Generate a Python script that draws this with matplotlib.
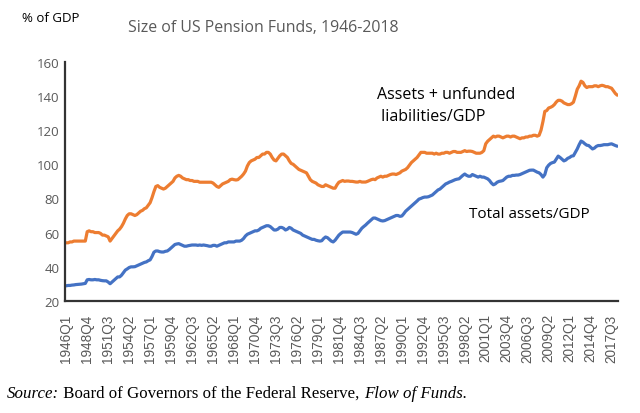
import matplotlib
matplotlib.use("Agg")
import matplotlib.pyplot as plt
import numpy as np

# quarterly values, 1946Q1 .. 2018Q2 (4 per row = one year)
liab_gdp = [
    54, 54, 54.5, 54.5,        # 1946
    55, 55, 55, 55,            # 1947
    55, 55, 55, 60.5,          # 1948
    61, 60.5, 60.5, 60,        # 1949
    60, 60, 59.5, 58.5,        # 1950
    58.5, 58, 57.5, 55,        # 1951
    56.5, 58, 59.5, 61,        # 1952
    62, 63.5, 65.5, 68,        # 1953
    70, 71, 71, 70.5,          # 1954
    70, 70.5, 71.5, 72.5,      # 1955
    73, 74, 74.5, 76,          # 1956
    77.5, 80.5, 84, 87,        # 1957
    87.5, 86.5, 86, 85.5,      # 1958
    86, 87, 88, 89,            # 1959
    90, 92, 93, 93.5,          # 1960
    93, 92, 91.5, 91,          # 1961
    91, 90.5, 90.5, 90,        # 1962
    90, 90, 89.5, 89.5,        # 1963
    89.5, 89.5, 89.5, 89.5,    # 1964
    89.5, 89, 88, 87,          # 1965
    86.5, 87.5, 88.5, 89,      # 1966
    89.5, 90, 91, 91.3,        # 1967
    91, 90.8, 91, 92,          # 1968
    93, 94.3, 96, 99,          # 1969
    101, 102, 102.5, 103,      # 1970
    104, 104, 105, 106,        # 1971
    106, 107, 107, 106,        # 1972
    104, 102.5, 102, 103.5,    # 1973
    105, 106, 106, 105,        # 1974
    104, 102, 100.5, 100,      # 1975
    99, 98, 97, 96.5,          # 1976
    96, 95.5, 95, 93,          # 1977
    91, 90, 89.5, 89,          # 1978
    88, 87.5, 87, 87,          # 1979
    88, 87.5, 87, 86.5,        # 1980
    86, 86, 88, 89.5,          # 1981
    90, 90.5, 90, 90.2,        # 1982
    90.2, 90, 90, 89.8,        # 1983
    89.6, 89.6, 90, 89.6,      # 1984
    89.6, 89.6, 90, 90.5,      # 1985
    91, 91.3, 91, 92,          # 1986
    92.5, 93, 92.5, 93,        # 1987
    93, 93.5, 94, 94.3,        # 1988
    94.3, 94, 94.5, 95,        # 1989
    96, 96.5, 97, 98,          # 1990
    99.5, 101, 102, 103,       # 1991
    104, 105.5, 107, 107,      # 1992
    107, 106.5, 106.5, 106.5,  # 1993
    106.5, 106, 106.5, 106,    # 1994
    106, 106.5, 106.5, 107,    # 1995
    107, 106.5, 107, 107.5,    # 1996
    107.5, 107, 107, 107,      # 1997
    107.5, 108, 107.5, 107.7,  # 1998
    107.7, 107.5, 107, 106.5,  # 1999
    106.5, 106.5, 107, 108,    # 2000
    112, 113.5, 114.5, 115.5,  # 2001
    116.5, 116, 116.5, 116.5,  # 2002
    116, 115.5, 116, 116.5,    # 2003
    116.5, 116, 116.5, 116.5,  # 2004
    116, 115.5, 115, 115.5,    # 2005
    115.5, 116, 116, 116.5,    # 2006
    116.5, 117, 117, 116.5,    # 2007
    117, 120, 125, 131,        # 2008
    131.5, 133, 133.4, 134,    # 2009
    135, 136.5, 137.5, 137.5,  # 2010
    137, 136, 135.5, 135,      # 2011
    135, 135.5, 136.4, 140,    # 2012
    144, 146, 148.7, 148,      # 2013
    146, 145, 145.5, 145.5,    # 2014
    145.5, 146, 146, 145.5,    # 2015
    146, 146.3, 146, 145.5,    # 2016
    145.5, 145, 144.6, 143,    # 2017
    141.5, 140.5,              # 2018
]

assets_gdp = [
    28.8, 29, 29, 29.2,        # 1946
    29.3, 29.5, 29.6, 29.7,    # 1947
    29.8, 30, 30.2, 32.3,      # 1948
    32.5, 32.3, 32.3, 32.5,    # 1949
    32.3, 32.3, 32, 31.8,      # 1950
    31.7, 31.7, 31, 30,        # 1951
    31, 32, 33, 34,            # 1952
    34, 35, 36.5, 38,          # 1953
    38.7, 39.5, 39.9, 39.9,    # 1954
    40, 40.5, 41, 41.5,        # 1955
    42, 42.5, 42.8, 43.5,      # 1956
    44, 46, 48.5, 49.2,        # 1957
    49.2, 48.8, 48.6, 48.6,    # 1958
    49, 49.2, 50, 51,          # 1959
    52, 53, 53.3, 53.5,        # 1960
    53, 52.5, 52, 52,          # 1961
    52.3, 52.5, 52.7, 52.7,    # 1962
    52.7, 52.5, 52.7, 52.5,    # 1963
    52.7, 52.5, 52.3, 52,      # 1964
    52, 52.5, 52.5, 52,        # 1965
    52.5, 53, 53.5, 54,        # 1966
    54, 54.5, 54.5, 54.5,      # 1967
    54.5, 55, 55, 55,          # 1968
    55.5, 56.5, 58, 59,        # 1969
    59.5, 60, 60.5, 61,        # 1970
    61, 61.5, 62.5, 63,        # 1971
    63.5, 64, 64, 63.5,        # 1972
    62.5, 61.5, 61.5, 62,      # 1973
    63, 63, 62.5, 61.5,        # 1974
    62, 63, 62.5, 61.5,        # 1975
    61, 60.5, 60, 59.5,        # 1976
    58.5, 58, 57.5, 57,        # 1977
    56.5, 56, 56, 55.5,        # 1978
    55.2, 55, 55.2, 56.5,      # 1979
    57.4, 57, 56, 55,          # 1980
    54.5, 55.5, 57, 58.5,      # 1981
    59.5, 60.3, 60.3, 60.3,    # 1982
    60.3, 60.3, 60, 59.5,      # 1983
    59, 59.5, 61, 62.5,        # 1984
    63.5, 64.4, 65.5, 66.5,    # 1985
    67.5, 68.5, 68.5, 68,      # 1986
    67.5, 67, 66.8, 67,        # 1987
    67.5, 68, 68.5, 69,        # 1988
    69.5, 70, 70, 69.5,        # 1989
    69.7, 71, 72.5, 73.5,      # 1990
    74.5, 75.5, 76.5, 77.5,    # 1991
    78.5, 79.6, 80, 80.5,      # 1992
    80.8, 80.8, 81, 81.5,      # 1993
    82, 83, 84, 85,            # 1994
    85.5, 86.5, 87.5, 88.5,    # 1995
    89, 89.6, 90, 90.5,        # 1996
    91, 91.3, 91.5, 92.5,      # 1997
    93.5, 94.3, 93.5, 93,      # 1998
    93, 94, 93.5, 93,          # 1999
    92.5, 93, 92.5, 92.5,      # 2000
    92, 91.5, 90.5, 89,        # 2001
    88, 88.5, 89.5, 90,        # 2002
    90.2, 90.5, 91.5, 92.5,    # 2003
    93, 93, 93.5, 93.5,        # 2004
    93.7, 93.7, 94, 94.5,      # 2005
    95, 95.5, 96, 96.5,        # 2006
    96.6, 96.6, 96, 95.4,      # 2007
    95, 94, 92.5, 94,          # 2008
    98, 99.5, 100.5, 101,      # 2009
    101.3, 103, 104.8, 104,    # 2010
    103, 102, 102.5, 103.5,    # 2011
    104, 104.8, 105, 107,      # 2012
    109, 111.5, 113.6, 113,    # 2013
    112, 111.2, 111, 110,      # 2014
    109, 109.5, 110.5, 111,    # 2015
    111, 111.2, 111.5, 111.5,  # 2016
    111.5, 111.8, 112, 111.5,  # 2017
    111, 110.6,                # 2018
]

first_year = 1946
label_every = 11
yticks = [20, 40, 60, 80, 100, 120, 140, 160]

n = len(liab_gdp)
quarters = [f"{first_year + i // 4}Q{i % 4 + 1}" for i in range(n)]
x = np.arange(n)

gray = "#595959"
sans = ["Open Sans", "DejaVu Sans"]

fig = plt.figure(figsize=(6.4, 4.14), dpi=100)
ax = fig.add_axes([0.102, 0.271, 0.864, 0.577])

ax.plot(x, liab_gdp, color="#ED7D31", lw=2.3, solid_capstyle="round")
ax.plot(x, assets_gdp, color="#4472C4", lw=2.3, solid_capstyle="round")

ax.set_xlim(-0.5, n - 0.5)
ax.set_ylim(20, 160)
ax.set_yticks(yticks)
ax.set_yticklabels([str(v) for v in yticks], color=gray, fontsize=9.5, family=sans)
tick_pos = x[::label_every]
ax.set_xticks(tick_pos)
ax.set_xticklabels([quarters[i] for i in tick_pos], rotation=90, color=gray,
                   fontsize=9.8, family="Liberation Sans")
ax.tick_params(axis="both", length=0)
ax.tick_params(axis="x", pad=9)
ax.tick_params(axis="y", pad=4)

for s in ["top", "right"]:
    ax.spines[s].set_visible(False)
for s in ["left", "bottom"]:
    ax.spines[s].set_color("#333333")
    ax.spines[s].set_linewidth(1.6)

ax.text(163, 135, "Assets + unfunded\n liabilities/GDP", fontsize=11.5, family=sans,
        va="center", ha="left", linespacing=1.5)
ax.text(211, 71, "Total assets/GDP", fontsize=11, family=sans, va="center", ha="left")

fig.text(0.034, 0.955, "% of GDP", fontsize=9.5, family=sans, va="center")
fig.text(0.411, 0.932, "Size of US Pension Funds, 1946-2018", fontsize=11.4, family=sans,
         color=gray, ha="center", va="center")

# source line, mixed italic / roman, chained one piece after another
fs = 12.2
t1 = fig.text(0.011, 0.039, "Source:", fontsize=fs, family="Liberation Serif",
              style="italic", va="baseline")
t2 = fig.text(0, 0, " Board of Governors of the Federal Reserve, ", fontsize=fs,
              family="Liberation Serif", va="baseline")
t3 = fig.text(0, 0, "Flow of Funds.", fontsize=fs, family="Liberation Serif",
              style="italic", va="baseline")
fig.canvas.draw()
r = fig.canvas.get_renderer()
inv = fig.transFigure.inverted()
bb1 = t1.get_window_extent(r)
t2.set_position((inv.transform((bb1.x1, 0))[0], 0.039))
bb2 = t2.get_window_extent(r)
t3.set_position((inv.transform((bb2.x1, 0))[0], 0.039))

fig.savefig("out.png", dpi=100)
